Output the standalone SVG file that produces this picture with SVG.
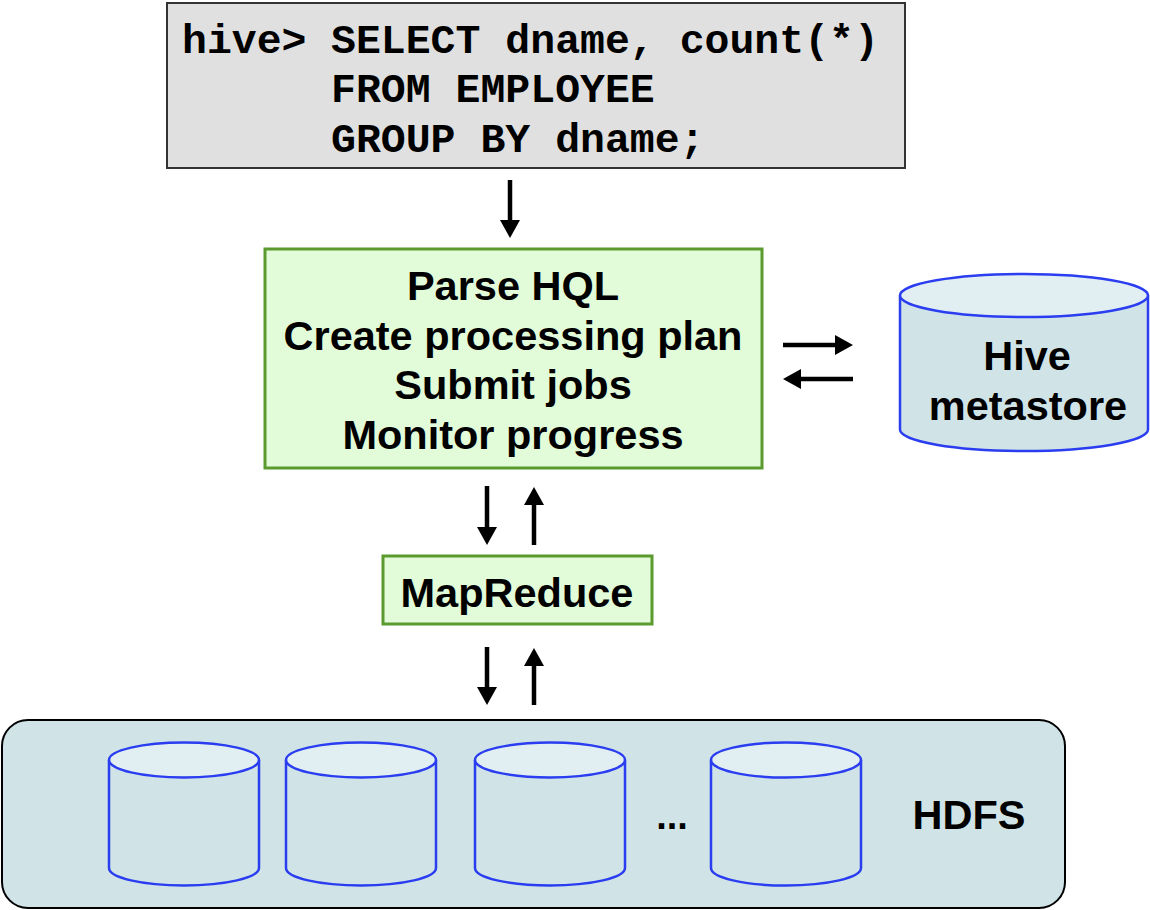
<svg xmlns="http://www.w3.org/2000/svg" width="1150" height="910" viewBox="0 0 1150 910">
<defs>
<style>
.mono{font-family:"Liberation Mono","Courier New",monospace;font-weight:bold;font-size:41.5px;fill:#000}
.lbl{font-family:"Liberation Sans",Arial,sans-serif;font-weight:bold;font-size:41.5px;fill:#000;text-anchor:middle}
.gbox{fill:#e2fbd8;stroke:#5b9a2f;stroke-width:3}
.cylb{fill:#d0e4e8;stroke:#2a3df0;stroke-width:2.5}
.cylt{fill:#e2eff2;stroke:#2a3df0;stroke-width:2.5}
.arr{stroke:#000;stroke-width:4.5;fill:none;marker-end:url(#ah)}
</style>
<marker id="ah" markerUnits="userSpaceOnUse" markerWidth="19" markerHeight="21" refX="0" refY="10" orient="auto">
<path d="M0,0 L18,10 L0,20 Z" fill="#000"/>
</marker>
</defs>
<rect width="1150" height="910" fill="#fff"/>

<g id="query">
<rect x="167" y="3" width="738" height="165" fill="#e0e0e0" stroke="#333" stroke-width="2"/>
<text class="mono"><tspan x="182" y="53">hive&gt;</tspan><tspan x="331" y="53">SELECT dname, count(*)</tspan><tspan x="331" y="102">FROM EMPLOYEE</tspan><tspan x="331" y="152">GROUP BY dname;</tspan></text>
</g>

<g id="driver">
<rect class="gbox" x="265" y="249" width="497" height="219"/>
<text class="lbl" x="513" y="300">Parse HQL</text>
<text class="lbl" x="513" y="350">Create processing plan</text>
<text class="lbl" x="513" y="399">Submit jobs</text>
<text class="lbl" x="513" y="449">Monitor progress</text>
</g>

<g id="metastore">
<path class="cylb" d="M900,295.5 L900,429.5 A124,21.5 0 0 0 1148,429.5 L1148,295.5"/>
<ellipse class="cylt" cx="1024" cy="295.5" rx="124" ry="21.5"/>
<text class="lbl" x="1027" y="370">Hive</text>
<text class="lbl" x="1028" y="420">metastore</text>
</g>

<g id="mapreduce">
<rect class="gbox" x="383" y="556" width="269" height="68"/>
<text class="lbl" x="517" y="607">MapReduce</text>
</g>

<g id="hdfs">
<rect x="2" y="720" width="1063" height="188" rx="26" ry="26" fill="#d0e4e8" stroke="#000" stroke-width="2"/>
<g id="disk1">
<path class="cylb" d="M109,760 L109,868 A75,17.5 0 0 0 259,868 L259,760"/>
<ellipse class="cylt" cx="184" cy="760" rx="75" ry="17.5"/>
</g>
<g id="disk2">
<path class="cylb" d="M286,760 L286,868 A75,17.5 0 0 0 436,868 L436,760"/>
<ellipse class="cylt" cx="361" cy="760" rx="75" ry="17.5"/>
</g>
<g id="disk3">
<path class="cylb" d="M475,760 L475,868 A75,17.5 0 0 0 625,868 L625,760"/>
<ellipse class="cylt" cx="550" cy="760" rx="75" ry="17.5"/>
</g>
<g id="disk4">
<path class="cylb" d="M711,760 L711,868 A75,17.5 0 0 0 861,868 L861,760"/>
<ellipse class="cylt" cx="786" cy="760" rx="75" ry="17.5"/>
</g>
<text class="lbl" x="672" y="829" style="font-size:38px">...</text>
<text class="lbl" x="969" y="829">HDFS</text>
</g>

<g id="connectors">
<line class="arr" x1="510" y1="180" x2="510" y2="220"/>
<line class="arr" x1="783" y1="345" x2="835" y2="345"/>
<line class="arr" x1="853" y1="379" x2="801" y2="379"/>
<line class="arr" x1="487" y1="486" x2="487" y2="527"/>
<line class="arr" x1="534" y1="545" x2="534" y2="505"/>
<line class="arr" x1="487" y1="647" x2="487" y2="687"/>
<line class="arr" x1="534" y1="705" x2="534" y2="666"/>
</g>
</svg>
